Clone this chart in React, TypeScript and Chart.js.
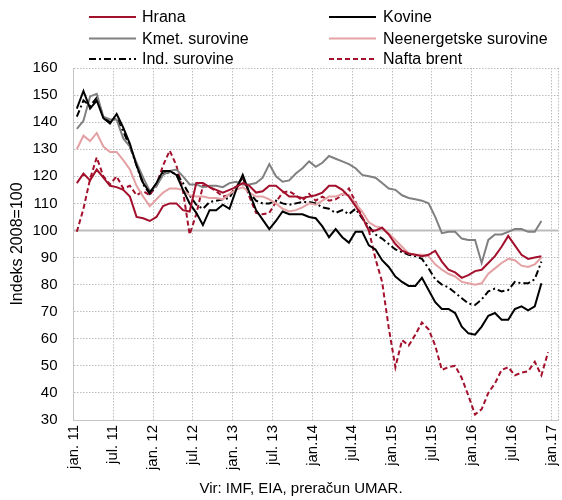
import React, { useEffect, useRef } from "react";
import { Chart, registerables } from "chart.js";

Chart.register(...registerables);

const FONT = "'Liberation Sans', Arial, sans-serif";

const tickLabels = ["jan. 11", "jul. 11", "jan. 12", "jul. 12", "jan. 13", "jul. 13", "jan.14", "jul.14", "jan.15", "jul.15", "jan.16", "jul.16", "jan.17"];

// monthly values, jan 2011 onward (index 2008 = 100)
const hrana = [117.5, 121, 118.5, 122.5, 119.5, 116.5, 116, 115, 112.5, 105,
  104.5, 103.5, 105, 109, 110, 110, 107.5, 107, 117.5, 117.5,
  116, 115, 114, 115, 116, 117.5, 116.5, 114, 114.5, 116.5,
  116.5, 114.5, 112.5, 112.5, 112, 112.5, 113, 114, 116.5, 116.5,
  115, 112.5, 109, 105, 100, 100, 101, 98.5, 95, 92.5,
  91.5, 91, 90.5, 91, 92.5, 88.5, 85.5, 84.5, 82.5, 83.5,
  85, 85.5, 88, 90.5, 94, 98, 94.5, 91, 89.5, 90,
  90.5];

const kovine = [145, 151.5, 145, 148, 141.5, 139.5, 143, 138, 132, 124,
  117.5, 114, 117.5, 122, 122, 120.5, 115, 110, 106.5, 102,
  107.5, 107.5, 109.5, 108, 115, 120.5, 114, 107.5, 104, 100.5,
  103.5, 107, 106, 106, 106, 105, 104.5, 101.5, 97.5, 100.5,
  97.5, 95.5, 99.5, 99.5, 94.5, 93, 89, 86.5, 83, 81,
  79.5, 79.5, 82.5, 78, 73.5, 71, 71, 69.5, 64.5, 62,
  61.5, 64.5, 68.5, 69.5, 67, 67, 71, 72, 70.5, 72,
  80.5];

const kmet = [137.5, 140.5, 149.5, 150.5, 142, 141, 141, 134, 131, 125,
  119.5, 114.5, 116.5, 120.5, 122, 122.5, 120, 117, 117, 116,
  116.5, 116.5, 116, 117.5, 118, 117, 117, 117.5, 119.5, 124.5,
  120, 118, 118.5, 121, 123, 125.5, 123.5, 125, 127.5, 126.5,
  125.5, 124.5, 123, 120.5, 120, 119.5, 117.5, 115.5, 115, 113,
  112, 111.5, 111, 110, 105, 99, 99.5, 99.5, 97, 96.5,
  96.5, 88, 96.5, 98.5, 98.5, 99.5, 100.5, 100.5, 99.5, 99.5,
  103.5];

const neenergetske = [130, 135, 133, 136, 131, 129, 129, 126, 122.5, 116.5,
  112.5, 109, 111.5, 114, 115.5, 115.5, 115, 113, 112.5, 112.5,
  112, 112, 111.5, 113.5, 115, 116, 114, 112.5, 112.5, 111.5,
  110, 108, 107, 107.5, 108.5, 110, 109.5, 111, 112.5, 112.5,
  113.5, 113, 110, 107, 103, 101.5, 101, 99, 96.5, 94,
  91.5, 91, 91, 90.5, 87.5, 85.5, 84, 83, 81, 80.5,
  80, 80.5, 84, 86, 88, 89.5, 89, 87, 86.5, 87.5,
  90];

const ind = [142, 148, 146, 149, 142, 140, 141.5, 136.5, 131, 124,
  117, 113.5, 116.5, 121, 121.5, 121, 117.5, 113, 109.5, 108,
  110.5, 111, 111.5, 112, 116.5, 119.5, 114, 111, 110, 110,
  111, 110, 109.5, 110, 110.5, 110.5, 110, 108.5, 108, 106.5,
  107.5, 106, 108, 104.5, 101.5, 98.5, 97, 95, 93, 92,
  91, 90.5, 89.5, 86, 82, 80, 79, 77, 75, 73,
  72.5, 74.5, 77.5, 78.5, 77.5, 78, 81, 80.5, 80.5, 82,
  88.5];

const nafta = [99.5, 108, 119, 127, 120, 117, 120, 115.5, 116.5, 113,
  114.5, 113, 117, 124, 129.5, 124, 114.5, 98.5, 106, 116.5,
  116, 114.5, 112.5, 113, 116, 119.5, 112.5, 106.5, 106, 106.5,
  110.5, 114, 114.5, 113, 111, 113.5, 111, 112.5, 111, 111.5,
  113, 115.5, 110.5, 105, 100, 89.5, 81, 64, 49.5, 59.5,
  57.5, 61.5, 66, 63.5, 57.5, 48.5, 49.5, 50, 45.5, 39,
  32, 34, 40, 43.5, 48.5, 49.5, 46.5, 47.5, 48, 51.5,
  46.5, 55];

const SOURCE = "Vir: IMF, EIA, preračun UMAR.";

export default function App() {
  const ref = useRef<HTMLCanvasElement>(null);

  useEffect(() => {
    if (!ref.current) return;
    const toXY = (arr: number[]) => arr.map((y, i) => ({ x: i, y }));

    const series = [
      { label: "Hrana", data: hrana, color: "#a3102c", dash: [] as number[], col: 0, row: 0 },
      { label: "Kovine", data: kovine, color: "#000000", dash: [] as number[], col: 1, row: 0 },
      { label: "Kmet. surovine", data: kmet, color: "#808080", dash: [] as number[], col: 0, row: 1 },
      { label: "Neenergetske surovine", data: neenergetske, color: "#e4a1a4", dash: [] as number[], col: 1, row: 1 },
      { label: "Ind. surovine", data: ind, color: "#000000", dash: [7, 3, 2, 3], col: 0, row: 2 },
      { label: "Nafta brent", data: nafta, color: "#a3102c", dash: [5, 3], col: 1, row: 2 },
    ];

    const datasets = series.map((s) => ({
      label: s.label,
      data: toXY(s.data),
      borderColor: s.color,
      backgroundColor: s.color,
      borderDash: s.dash,
      borderWidth: 2,
      pointRadius: 0,
      tension: 0,
      fill: false,
    }));

    const xTickValues = [...tickLabels.map((_, k) => -0.5 + 6 * k), 72.5];

    const refLine = {
      id: "refLine",
      beforeDatasetsDraw(chart: any) {
        const { ctx, chartArea, scales } = chart;
        const y = scales.y.getPixelForValue(100);
        ctx.save();
        ctx.strokeStyle = "#bdbdbd";
        ctx.lineWidth = 2;
        ctx.beginPath();
        ctx.moveTo(chartArea.left, y);
        ctx.lineTo(chartArea.right, y);
        ctx.stroke();
        ctx.restore();
      },
    };

    const legendPlugin = {
      id: "customLegend",
      afterDraw(chart: any) {
        const ctx = chart.ctx;
        const colX = [[89, 136, 142], [329, 376, 383]];
        const rowY = [17, 38.5, 59];
        ctx.save();
        ctx.font = `16px ${FONT}`;
        ctx.textBaseline = "middle";
        ctx.textAlign = "left";
        series.forEach((s) => {
          const [x1, x2, tx] = colX[s.col];
          const y = rowY[s.row];
          ctx.strokeStyle = s.color;
          ctx.lineWidth = 2;
          ctx.setLineDash(s.dash);
          ctx.beginPath();
          ctx.moveTo(x1, y);
          ctx.lineTo(x2, y);
          ctx.stroke();
          ctx.setLineDash([]);
          ctx.fillStyle = "#000";
          ctx.fillText(s.label, tx, y + 1);
        });
        ctx.restore();
      },
    };

    const sourcePlugin = {
      id: "sourceText",
      afterDraw(chart: any) {
        const ctx = chart.ctx;
        ctx.save();
        ctx.font = `15px ${FONT}`;
        ctx.fillStyle = "#000";
        ctx.textAlign = "center";
        ctx.textBaseline = "middle";
        ctx.fillText(SOURCE, 301, 489);
        ctx.restore();
      },
    };

    const gridColor = "#bdbdbd";

    const chart = new Chart(ref.current, {
      type: "line",
      data: { datasets } as any,
      options: {
        responsive: false,
        animation: false,
        devicePixelRatio: 1,
        layout: { padding: { top: 68, right: 4, bottom: 0, left: 0 } },
        plugins: {
          legend: { display: false },
          tooltip: { enabled: false },
          title: { display: false },
        },
        scales: {
          x: {
            type: "linear",
            min: -0.5,
            max: 72.5,
            afterBuildTicks: (s: any) => {
              s.ticks = xTickValues.map((v) => ({ value: v }));
            },
            afterFit: (s: any) => {
              s.height = 80;
              s.paddingLeft = 0;
              s.paddingRight = 0;
            },
            ticks: {
              autoSkip: false,
              maxRotation: 90,
              minRotation: 90,
              padding: 5,
              color: "#000",
              font: { family: FONT, size: 15 },
              callback: (_v: any, i: number) => tickLabels[i] ?? "",
            },
            grid: { color: gridColor, lineWidth: 1, drawTicks: false },
            border: { display: true, color: "#c4c4c4", dash: [1.5, 1.5] },
          },
          y: {
            min: 30,
            max: 160,
            afterFit: (s: any) => {
              s.width = 73.5;
              s.paddingTop = 0;
              s.paddingBottom = 0;
            },
            ticks: {
              stepSize: 10,
              padding: 16,
              color: "#000",
              font: { family: FONT, size: 15 },
            },
            grid: { color: gridColor, lineWidth: 1, drawTicks: false },
            border: { display: true, color: "#c4c4c4", dash: [1.5, 1.5] },
            title: {
              display: true,
              text: "Indeks 2008=100",
              color: "#000",
              font: { family: FONT, size: 16 },
              padding: { top: 8, bottom: 0 },
            },
          },
        },
      } as any,
      plugins: [refLine, legendPlugin, sourcePlugin],
    });

    return () => chart.destroy();
  }, []);

  return (
    <div style={{ position: "fixed", left: 0, top: 0, width: 562, height: 500, background: "#fff" }}>
      <canvas ref={ref} width={562} height={500} style={{ display: "block", width: 562, height: 500 }} />
    </div>
  );
}
